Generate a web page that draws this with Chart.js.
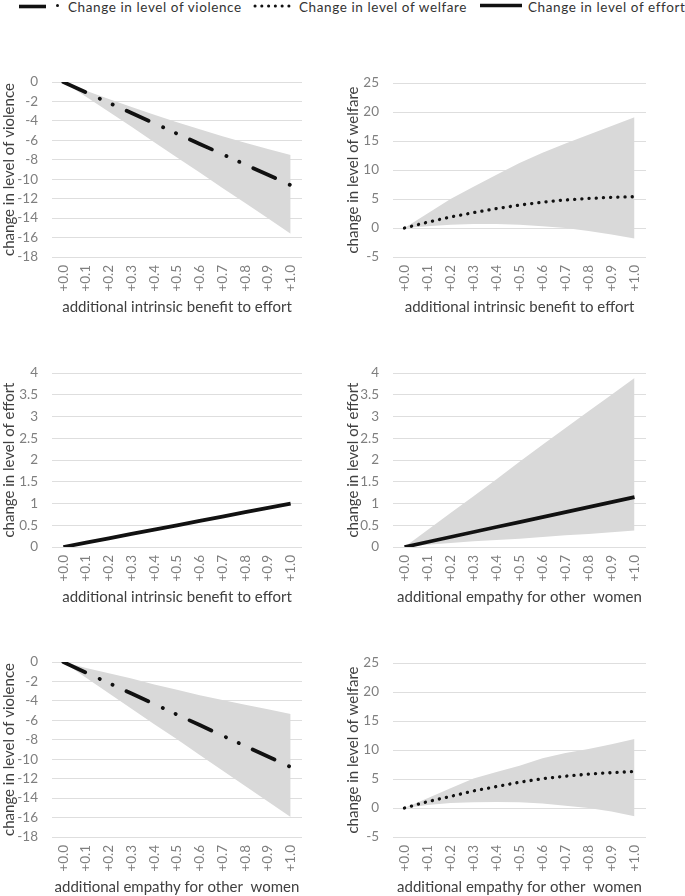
<!DOCTYPE html>
<html><head><meta charset="utf-8">
<script src="https://cdn.jsdelivr.net/npm/chart.js@4.4.0/dist/chart.umd.min.js"></script>
<style>
html,body{margin:0;padding:0;background:#fff;width:685px;height:896px;overflow:hidden;font-family:Lato, sans-serif;}
canvas{position:absolute;}
#legend{position:absolute;left:0;top:0;width:685px;height:18px;}
.lt{position:absolute;top:-1px;font-size:13.5px;color:#333;white-space:nowrap;line-height:16px;letter-spacing:0.6px}
</style></head><body>
<div id="legend">
<svg width="685" height="18" style="position:absolute;left:0;top:0">
 <line x1="19" y1="6.5" x2="46" y2="6.5" stroke="#111" stroke-width="3.6"/>
 <circle cx="57.5" cy="5.5" r="1.5" fill="#111"/>
 <line x1="255" y1="6" x2="290" y2="6" stroke="#111" stroke-width="3" stroke-dasharray="0.1 6.67" stroke-linecap="round"/>
 <line x1="480" y1="5.5" x2="522" y2="5.5" stroke="#111" stroke-width="3.6"/>
</svg>
<span class="lt" style="left:68px">Change in level of violence</span>
<span class="lt" style="left:299px">Change in level of welfare</span>
<span class="lt" style="left:528px">Change in level of effort</span>
</div>
<canvas id="c1" width="340" height="262" style="left:0;top:60px"></canvas>
<canvas id="c2" width="345" height="261" style="left:340px;top:61px"></canvas>
<canvas id="c3" width="340" height="261" style="left:0;top:351px"></canvas>
<canvas id="c4" width="345" height="261" style="left:340px;top:351px"></canvas>
<canvas id="c5" width="340" height="262" style="left:0;top:640px"></canvas>
<canvas id="c6" width="345" height="261" style="left:340px;top:641px"></canvas>
<script>
// ---- data ----
const categories = ['+0.0','+0.1','+0.2','+0.3','+0.4','+0.5','+0.6','+0.7','+0.8','+0.9','+1.0'];

const violenceBenefit      = [0,-1.06,-2.12,-3.18,-4.24,-5.3,-6.36,-7.42,-8.48,-9.54,-10.6];
const violenceBenefitUpper = [0,-0.89,-1.74,-2.57,-3.36,-4.13,-4.86,-5.57,-6.24,-6.89,-7.5];
const violenceBenefitLower = [0,-1.5,-3.05,-4.6,-6.2,-7.75,-9.3,-10.9,-12.45,-14.0,-15.6];

const welfareBenefit      = [0,1.0,1.9,2.65,3.35,3.95,4.45,4.85,5.1,5.3,5.4];
const welfareBenefitUpper = [0,2.5,5.0,7.1,9.2,11.2,13.0,14.6,16.1,17.6,19.1];
const welfareBenefitLower = [0,0.3,0.55,0.7,0.7,0.55,0.3,0.0,-0.5,-1.1,-1.8];

const effortBenefit = [0,0.1,0.2,0.3,0.4,0.5,0.6,0.7,0.8,0.9,1.0];

const effortEmpathy      = [0,0.115,0.23,0.345,0.46,0.57,0.685,0.8,0.915,1.03,1.145];
const effortEmpathyUpper = [0,0.39,0.78,1.17,1.56,1.96,2.35,2.74,3.12,3.5,3.89];
const effortEmpathyLower = [0,0.05,0.09,0.13,0.16,0.19,0.23,0.27,0.3,0.34,0.38];

const violenceEmpathy      = [0,-1.08,-2.16,-3.24,-4.32,-5.4,-6.48,-7.56,-8.64,-9.72,-10.8];
const violenceEmpathyUpper = [0,-0.6,-1.15,-1.7,-2.3,-2.85,-3.4,-3.9,-4.4,-4.85,-5.35];
const violenceEmpathyLower = [0,-1.6,-3.2,-4.8,-6.4,-7.95,-9.55,-11.15,-12.75,-14.35,-15.95];

const welfareEmpathy      = [0,1.1,2.0,2.95,3.7,4.45,5.05,5.5,5.85,6.1,6.3];
const welfareEmpathyUpper = [0,1.7,3.4,5.1,6.2,7.3,8.6,9.5,10.2,11.0,11.9];
const welfareEmpathyLower = [0,0.5,0.85,1.0,1.05,1.0,0.8,0.4,0.0,-0.6,-1.4];

const xTitleBenefit = 'additional intrinsic benefit to effort';
const xTitleEmpathy = 'additional empathy for other  women';
const yTitleViolence = 'change in level of violence';
const yTitleWelfare = 'change in level of welfare';
const yTitleEffort = 'change in level of effort';

// ---- styles ----
const FONT = 'Lato, sans-serif';
const TICK = '#7f7f7f';
const TITLE = '#404040';
const GRID = '#dedede';
const BAND = '#d9d9d9';
const LINE = '#111111';
const STYLES = {
  violence: {lw: 3.8, dash: [24, 16, 0.1, 14, 0.1, 15.3], cap: 'round'},
  welfare:  {lw: 3.3, dash: [0.1, 7.1], cap: 'round'},
  effort:   {lw: 3.8, dash: [], cap: 'butt'}
};

function makeChart(id, cfg) {
  const st = STYLES[cfg.kind];
  const datasets = [{
    label: 'mean', data: cfg.mean, borderColor: LINE, borderWidth: st.lw,
    borderDash: st.dash, borderCapStyle: st.cap, pointRadius: 0, fill: false, tension: 0, order: 0
  }];
  if (cfg.lower) {
    datasets.push({label: 'lower', data: cfg.lower, borderColor: 'rgba(0,0,0,0)', borderWidth: 1,
      pointRadius: 0, fill: false, order: 1});
    datasets.push({label: 'upper', data: cfg.upper, borderColor: 'rgba(0,0,0,0)', borderWidth: 1,
      pointRadius: 0, fill: '-1', backgroundColor: BAND, order: 2});
  }
  new Chart(document.getElementById(id), {
    type: 'line',
    data: {labels: categories, datasets},
    options: {
      animation: false, responsive: false,
      layout: {padding: {top: 18, right: cfg.padRight, left: 0, bottom: 0}},
      plugins: {legend: {display: false}, tooltip: {enabled: false}},
      scales: {
        x: {
          offset: true,
          grid: {display: false, drawTicks: false},
          border: {display: false},
          ticks: {minRotation: 90, maxRotation: 90, autoSkip: false, padding: 8, color: TICK,
                  font: {family: FONT, size: 13.5}},
          title: {display: true, text: cfg.xTitle, color: TITLE, font: {family: FONT, size: 15},
                  padding: {top: 0, bottom: 6}},
          afterFit: s => { s.height = 65; }
        },
        y: {
          min: cfg.min, max: cfg.max,
          ticks: {stepSize: cfg.step, padding: 14, color: TICK, font: {family: FONT, size: 13.5},
                  callback: v => String(v)},
          grid: {color: GRID, drawTicks: false, lineWidth: 1},
          border: {display: false},
          title: {display: true, text: cfg.yTitle, color: TITLE, font: {family: FONT, size: 15},
                  padding: {top: cfg.titlePad, bottom: 0}},
          afterFit: s => { s.width = cfg.yWidth; }
        }
      }
    }
  });
}

makeChart('c1', {kind: 'violence', mean: violenceBenefit, upper: violenceBenefitUpper, lower: violenceBenefitLower,
  min: -18, max: 0, step: 2, xTitle: xTitleBenefit, yTitle: yTitleViolence, yWidth: 52, padRight: 38, titlePad: 0});
makeChart('c2', {kind: 'welfare', mean: welfareBenefit, upper: welfareBenefitUpper, lower: welfareBenefitLower,
  min: -5, max: 25, step: 5, xTitle: xTitleBenefit, yTitle: yTitleWelfare, yWidth: 53, padRight: 39, titlePad: 4});
makeChart('c3', {kind: 'effort', mean: effortBenefit,
  min: 0, max: 4, step: 0.5, xTitle: xTitleBenefit, yTitle: yTitleEffort, yWidth: 52, padRight: 38, titlePad: 0});
makeChart('c4', {kind: 'effort', mean: effortEmpathy, upper: effortEmpathyUpper, lower: effortEmpathyLower,
  min: 0, max: 4, step: 0.5, xTitle: xTitleEmpathy, yTitle: yTitleEffort, yWidth: 53, padRight: 39, titlePad: 4});
makeChart('c5', {kind: 'violence', mean: violenceEmpathy, upper: violenceEmpathyUpper, lower: violenceEmpathyLower,
  min: -18, max: 0, step: 2, xTitle: xTitleEmpathy, yTitle: yTitleViolence, yWidth: 52, padRight: 38, titlePad: 0});
makeChart('c6', {kind: 'welfare', mean: welfareEmpathy, upper: welfareEmpathyUpper, lower: welfareEmpathyLower,
  min: -5, max: 25, step: 5, xTitle: xTitleEmpathy, yTitle: yTitleWelfare, yWidth: 53, padRight: 39, titlePad: 4});
</script>
</body></html>
